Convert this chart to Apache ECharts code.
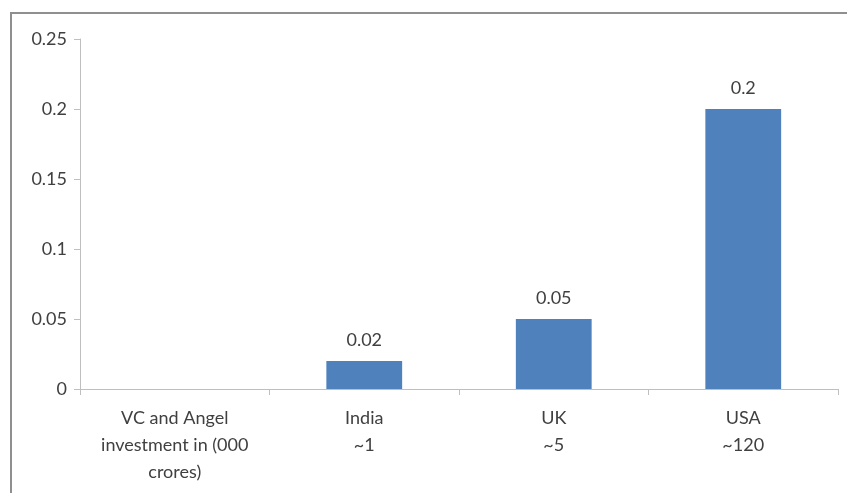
<!DOCTYPE html>
<html>
<head>
<meta charset="utf-8">
<script src="https://cdn.jsdelivr.net/npm/echarts@6/dist/echarts.min.js"></script>
<style>
  html, body { margin: 0; padding: 0; background: #fff; }
  #chart { width: 847px; height: 493px; }
</style>
</head>
<body>
<div id="chart"></div>
<script>
// Category labels (first slot is the axis caption, no bar)
const categories = ['VC and Angel\ninvestment in (000\ncrores)', 'India\n~1', 'UK\n~5', 'USA\n~120'];
// Bar values per category
const values = [null, 0.02, 0.05, 0.2];
// Value axis range
const yMin = 0;
const yMax = 0.25;
const yStep = 0.05;

const textColor = '#404040';
const axisColor = '#bfbfbf';
const font = 'Lato';

const chart = echarts.init(document.getElementById('chart'));
chart.setOption({
  animation: false,
  backgroundColor: '#fff',
  graphic: [{
    type: 'rect',
    shape: { x: 11, y: 13, width: 860, height: 500 },
    style: { fill: 'none', stroke: '#8f8f8f', lineWidth: 2 },
    silent: true
  }],
  grid: { left: 80, right: 9, top: 39, bottom: 104 },
  xAxis: {
    type: 'category',
    data: categories,
    axisLine: { lineStyle: { color: axisColor, width: 1 } },
    axisTick: { show: true, length: 6, lineStyle: { color: axisColor } },
    axisLabel: {
      color: textColor, fontFamily: font, fontSize: 18,
      lineHeight: 27, margin: 16, interval: 0
    }
  },
  yAxis: {
    type: 'value',
    min: yMin, max: yMax, interval: yStep,
    splitLine: { show: false },
    axisLine: { show: true, lineStyle: { color: axisColor, width: 1 } },
    axisTick: { show: true, length: 6, lineStyle: { color: axisColor } },
    axisLabel: {
      color: textColor, fontFamily: font, fontSize: 18, margin: 13,
      formatter: v => String(Number(v.toFixed(2)))
    }
  },
  series: [{
    type: 'bar',
    data: values,
    barWidth: '40%',
    itemStyle: { color: '#4f81bd' },
    label: {
      show: true, position: 'top', distance: 12,
      color: textColor, fontFamily: font, fontSize: 18
    }
  }]
});
</script>
</body>
</html>
